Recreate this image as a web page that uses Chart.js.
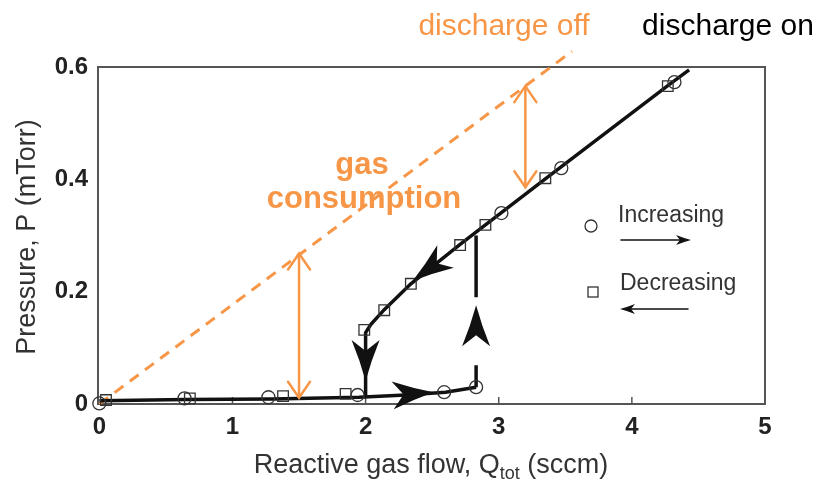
<!DOCTYPE html>
<html>
<head>
<meta charset="utf-8">
<script src="https://cdn.jsdelivr.net/npm/chart.js@4.4.0/dist/chart.umd.min.js"></script>
<style>
  html, body { margin: 0; padding: 0; background: #fff; }
  #wrap { width: 823px; height: 483px; position: relative; }
</style>
</head>
<body>
<div id="wrap"><canvas id="chart" width="823" height="483"></canvas></div>
<script>
// axis ticks
const xTicks = [0, 1, 2, 3, 4, 5];
const yTicks = [0, 0.2, 0.4, 0.6];
const yTickLabels = ['0', '0.2', '0.4', '0.6'];

// measured points (sccm, mTorr)
const incX = [0, 0.64, 1.27, 1.94, 2.59, 2.83, 3.02, 3.47, 4.32];
const incP = [0.001, 0.01, 0.012, 0.016, 0.021, 0.03, 0.34, 0.42, 0.573];
const decX = [0.05, 0.68, 1.38, 1.85, 1.99, 2.14, 2.34, 2.71, 2.90, 3.35, 4.27];
const decP = [0.007, 0.01, 0.014, 0.018, 0.132, 0.167, 0.214, 0.283, 0.319, 0.402, 0.566];

// guide curves
const lowX = [0, 0.65, 1.3, 1.95, 2.3, 2.6, 2.83];
const lowP = [0.006, 0.008, 0.009, 0.012, 0.016, 0.021, 0.03];
const upX = [4.43, 4.27, 3.35, 2.90, 2.71, 2.34, 2.14, 2.04, 2.0, 2.0];
const upP = [0.595, 0.567, 0.401, 0.319, 0.284, 0.214, 0.168, 0.142, 0.127, 0.011];
const jumpX = [2.83, 2.83, 2.83, 2.83, 2.83];
const jumpP = [0.03, 0.069, null, 0.19, 0.30];

// discharge off line
const offX = [0, 3.55];
const offP = [0, 0.628];

// gas consumption gaps
const gapX = [1.5, 3.2];
const gapLo = [0.011, 0.386];
const gapHi = [0.268, 0.566];

// arrowheads on the curves (tip, tail)
const arrowTipX = [2.353, 2.0, 2.51, 2.83];
const arrowTipP = [0.219, 0.041, 0.021, 0.176];
const arrowTailX = [2.564, 2.0, 2.24, 2.83];
const arrowTailP = [0.256, 0.112, 0.016, 0.101];

const FONT = '"Liberation Sans", Arial, sans-serif';
const ORANGE = '#F79646';

function pts(xs, ys) {
    return xs.map((v, i) => ({ x: v, y: ys[i] }));
}

function lineSet(data, color, width, dash) {
    return {
        data: data,
        showLine: true,
        borderColor: color,
        borderWidth: width,
        borderDash: dash || [],
        pointRadius: 0,
        spanGaps: false,
        clip: false
    };
}

function stealth(ctx, tx, ty, ang, len, half, notch) {
    ctx.save();
    ctx.translate(tx, ty);
    ctx.rotate(ang);
    ctx.beginPath();
    ctx.moveTo(0, 0);
    ctx.quadraticCurveTo(-len * 0.5, -half * 0.4, -len, -half);
    ctx.lineTo(-len + notch, 0);
    ctx.lineTo(-len, half);
    ctx.quadraticCurveTo(-len * 0.5, half * 0.4, 0, 0);
    ctx.closePath();
    ctx.fill();
    ctx.restore();
}

const extras = {
    id: 'extras',
    beforeDatasetsDraw(chart) {
        const { ctx, chartArea: a, scales: { x } } = chart;
        ctx.save();
        ctx.strokeStyle = '#555';
        ctx.lineWidth = 2;
        ctx.strokeRect(a.left, a.top, a.width, a.height);
        // inward ticks
        ctx.lineWidth = 1.5;
        xTicks.slice(1, -1).forEach(v => {
            const px = x.getPixelForValue(v);
            ctx.beginPath();
            ctx.moveTo(px, a.bottom);
            ctx.lineTo(px, a.bottom - 7);
            ctx.stroke();
        });
        ctx.restore();
    },
    afterDatasetsDraw(chart) {
        const { ctx, chartArea: a, scales: { x, y } } = chart;
        ctx.save();

        // orange double arrows
        ctx.strokeStyle = ORANGE;
        ctx.lineWidth = 2.5;
        ctx.lineCap = 'round';
        gapX.forEach((g, i) => {
            const px = x.getPixelForValue(g);
            const hi = y.getPixelForValue(gapHi[i]);
            const lo = y.getPixelForValue(gapLo[i]);
            ctx.beginPath();
            ctx.moveTo(px - 11, hi + 16); ctx.lineTo(px, hi); ctx.lineTo(px + 11, hi + 16);
            ctx.moveTo(px - 11, lo - 16); ctx.lineTo(px, lo); ctx.lineTo(px + 11, lo - 16);
            ctx.stroke();
        });

        // black arrowheads on curves
        ctx.fillStyle = '#111';
        arrowTipX.forEach((tx, i) => {
            const px = x.getPixelForValue(tx), py = y.getPixelForValue(arrowTipP[i]);
            const qx = x.getPixelForValue(arrowTailX[i]), qy = y.getPixelForValue(arrowTailP[i]);
            stealth(ctx, px, py, Math.atan2(py - qy, px - qx), 41, 14, 11);
        });

        // legend inside plot
        const lx = a.left, ly = a.top;
        ctx.strokeStyle = '#333';
        ctx.lineWidth = 1.3;
        ctx.beginPath();
        ctx.arc(lx + 493, ly + 159, 6, 0, Math.PI * 2);
        ctx.stroke();
        ctx.strokeRect(lx + 490, ly + 220, 10, 10);
        ctx.fillStyle = '#333';
        ctx.font = '23px ' + FONT;
        ctx.textBaseline = 'alphabetic';
        ctx.textAlign = 'left';
        ctx.fillText('Increasing', lx + 520, ly + 155);
        ctx.fillText('Decreasing', lx + 522, ly + 223);
        ctx.strokeStyle = '#111';
        ctx.lineWidth = 1.5;
        ctx.beginPath();
        ctx.moveTo(lx + 523, ly + 173); ctx.lineTo(lx + 585, ly + 173);
        ctx.moveTo(lx + 530, ly + 242); ctx.lineTo(lx + 590, ly + 242);
        ctx.stroke();
        ctx.fillStyle = '#111';
        stealth(ctx, lx + 593, ly + 173, 0, 15, 5, 4);
        stealth(ctx, lx + 522, ly + 242, Math.PI, 15, 5, 4);

        // annotations
        ctx.textAlign = 'center';
        ctx.fillStyle = ORANGE;
        ctx.font = '30px ' + FONT;
        ctx.fillText('discharge off', 504, 35);
        ctx.fillStyle = '#000';
        ctx.fillText('discharge on', 728, 35);
        ctx.fillStyle = ORANGE;
        ctx.font = 'bold 31px ' + FONT;
        ctx.fillText('gas', 362, 174);
        ctx.fillText('consumption', 364, 208);

        // axis titles
        ctx.fillStyle = '#333';
        ctx.font = '27px ' + FONT;
        ctx.save();
        ctx.translate(28, 237);
        ctx.rotate(-Math.PI / 2);
        ctx.textBaseline = 'middle';
        ctx.fillText('Pressure, P (mTorr)', 0, 0);
        ctx.restore();

        const t1 = 'Reactive gas flow, Q', t2 = 'tot', t3 = ' (sccm)';
        ctx.textAlign = 'left';
        ctx.font = '27px ' + FONT;
        const w1 = ctx.measureText(t1).width, w3 = ctx.measureText(t3).width;
        ctx.font = '18px ' + FONT;
        const w2 = ctx.measureText(t2).width;
        let sx = 431 - (w1 + w2 + w3) / 2;
        ctx.font = '27px ' + FONT;
        ctx.fillText(t1, sx, 473);
        ctx.font = '18px ' + FONT;
        ctx.fillText(t2, sx + w1, 479);
        ctx.font = '27px ' + FONT;
        ctx.fillText(t3, sx + w1 + w2, 473);

        ctx.restore();
    }
};

new Chart(document.getElementById('chart').getContext('2d'), {
    type: 'scatter',
    data: {
        datasets: [
            {
                data: pts(incX, incP),
                pointStyle: 'circle',
                pointRadius: 6.5,
                borderColor: '#333',
                borderWidth: 1.3,
                backgroundColor: 'rgba(0,0,0,0)',
                clip: false
            },
            {
                data: pts(decX, decP),
                pointStyle: 'rect',
                pointRadius: 7.5,
                borderColor: '#333',
                borderWidth: 1.3,
                backgroundColor: 'rgba(0,0,0,0)',
                clip: false
            },
            lineSet(pts(lowX, lowP), '#111', 3.5),
            lineSet(pts(upX, upP), '#111', 3.5),
            lineSet(pts(jumpX, jumpP), '#111', 3.5),
            lineSet(pts(offX, offP), ORANGE, 3, [11, 8]),
            lineSet(pts([gapX[0], gapX[0]], [gapLo[0], gapHi[0]]), ORANGE, 2.5),
            lineSet(pts([gapX[1], gapX[1]], [gapLo[1], gapHi[1]]), ORANGE, 2.5)
        ]
    },
    options: {
        responsive: false,
        animation: false,
        devicePixelRatio: 1,
        layout: { padding: { top: 67, right: 58, left: 0, bottom: 0 } },
        plugins: { legend: { display: false }, tooltip: { enabled: false } },
        scales: {
            x: {
                type: 'linear',
                min: -0.01,
                max: 5,
                afterBuildTicks: s => { s.ticks = xTicks.map(v => ({ value: v })); },
                afterFit: s => { s.height = 79; },
                grid: { display: false, drawTicks: false },
                border: { display: false },
                ticks: {
                    padding: 9,
                    color: '#222',
                    font: { family: FONT, size: 24, weight: 'bold' },
                    callback: v => String(v)
                }
            },
            y: {
                min: 0,
                max: 0.6,
                afterBuildTicks: s => { s.ticks = yTicks.map(v => ({ value: v })); },
                afterFit: s => { s.width = 98; },
                grid: { display: false, drawTicks: false },
                border: { display: false },
                ticks: {
                    padding: 10,
                    color: '#222',
                    font: { family: FONT, size: 24, weight: 'bold' },
                    callback: (v, i) => yTickLabels[i]
                }
            }
        }
    },
    plugins: [extras]
});
</script>
</body>
</html>
